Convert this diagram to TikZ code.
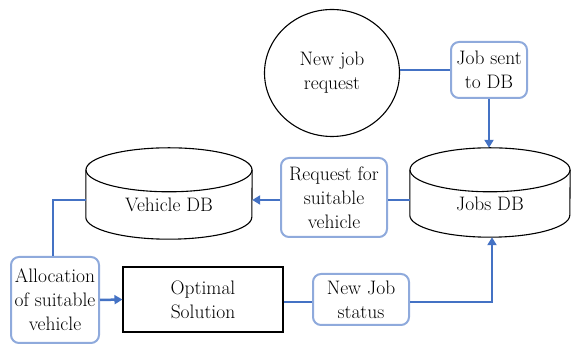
\documentclass[tikz,border=0pt]{standalone}
\usetikzlibrary{shapes.geometric,arrows.meta}
\definecolor{flowblue}{RGB}{68,114,196}
\definecolor{softblue}{RGB}{143,170,220}
\tikzset{
  msgbox/.style={draw=softblue,line width=2pt,rounded corners=8pt,align=center,inner sep=1pt},
  dbline/.style={draw,line width=1.1pt},
  flow/.style={draw=flowblue,line width=2.5pt},
  flowarr/.style={flow,-{Triangle[length=8pt,width=9pt]}}
}
\begin{document}
\begin{tikzpicture}[x=1pt,y=1pt,font=\fontsize{19.5}{24}\selectfont]
                \useasboundingbox (0,0) rectangle (571,344);
                \node[draw,ellipse,line width=1.1pt,minimum width=135pt,minimum height=127pt,align=center] (N) at (332, 271) {New job\\request};
                \node[msgbox,minimum width=76pt,minimum height=56pt] (S) at (489, 274) {Job sent\\to DB};
                \node[minimum width=160pt,minimum height=67pt] (J) at (490, 140.5) {Jobs DB};
                \node[minimum width=166pt,minimum height=69pt] (V) at (169, 139.5) {Vehicle DB};
                \node[msgbox,minimum width=106pt,minimum height=79pt] (R) at (334, 146.5) {Request for\\suitable\\vehicle};
                \node[msgbox,minimum width=88pt,minimum height=86pt] (L) at (55, 44) {Allocation\\of suitable\\vehicle};
                \node[draw,line width=1.1pt,minimum width=160pt,minimum height=65pt,align=center] (O) at (203, 44.5) {Optimal\\Solution};
                \node[msgbox,minimum width=96pt,minimum height=51pt] (T) at (361, 44.5) {New Job\\status};
                \coordinate (X) at (53, 144);
                \coordinate (Y) at (492, 42);

                % database drums
                \draw[dbline] (J.north) ellipse[x radius=80pt,y radius=22pt];
                \draw[dbline] (J.north west) -- ([yshift=22pt]J.south west) arc[start angle=180,end angle=360,x radius=80pt,y radius=22pt] -- (J.north east);
                \draw[dbline] (V.north) ellipse[x radius=83pt,y radius=22pt];
                \draw[dbline] (V.north west) -- ([yshift=22pt]V.south west) arc[start angle=180,end angle=360,x radius=83pt,y radius=22pt] -- (V.north east);

                \draw[flow] (N.east |- S.west) -- (S.west);
                \draw[flowarr] (S.south) -- ([yshift=22pt]S.south |- J.north);
                \draw[flow] (R.east |- X) -- (J.west |- X);
                \draw[flowarr] (R.west |- X) -- (V.east |- X);
                \draw[flow] (V.west |- X) -- (X) -- (L.north -| X);
                \draw[flowarr] (L.east) -- (O.west);
                \draw[flow] (O.east |- Y) -- (T.west |- Y);
                \draw[flowarr] (T.east |- Y) -- (Y) -- (J.south -| Y);
            \end{tikzpicture}
\end{document}
